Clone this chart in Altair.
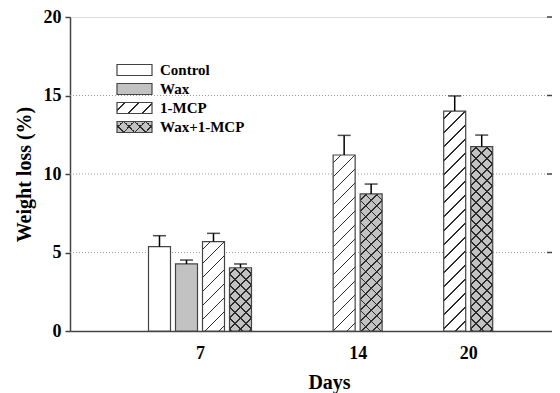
import math
import altair as alt
import pandas as pd

# ---------------- data ----------------
days = [7, 7, 7, 7, 14, 14, 20, 20]
series = ["Control", "Wax", "1-MCP", "Wax+1-MCP", "1-MCP", "Wax+1-MCP", "1-MCP", "Wax+1-MCP"]
values = [5.37, 4.27, 5.69, 4.03, 11.21, 8.73, 14.01, 11.74]
upper = [6.07, 4.52, 6.22, 4.27, 12.46, 9.36, 14.97, 12.48]
legend_names = ["Control", "Wax", "1-MCP", "Wax+1-MCP"]
day_ticks = [7, 14, 20]
y_ticks = [0, 5, 10, 15, 20]
grid_vals = [5, 10, 15]

# ---------------- layout / style ----------------
W, H = 482, 314
YMAX = 20
PX = H / YMAX
BAR_W, PITCH = 22, 27
FONT = "Liberation Serif"
EDGE = "#444444"
LINE = "#2a2a2a"
GRAY = "#c2c2c2"
CLEAR = "rgba(255,255,255,0)"


def stripes(w, h, kind, period, lw, bg, fg):
    """Hard-stop linear gradient that looks like 45-degree hatching."""
    L = (w + h) / math.sqrt(2)
    lam = (w + h) / (w * w + h * h)
    if kind == "slash":
        x1, y1, x2, y2 = 0, 0, lam * w, lam * h
    else:
        x1, y1, x2, y2 = 1, 0, 1 - lam * w, lam * h
    stops = [{"offset": 0, "color": bg}]
    pos = period * 0.5
    while pos < L:
        a = pos / L
        b = min((pos + lw) / L, 1.0)
        stops += [
            {"offset": a, "color": bg},
            {"offset": a, "color": fg},
            {"offset": b, "color": fg},
            {"offset": b, "color": bg},
        ]
        pos += period
    stops.append({"offset": 1, "color": bg})
    return {"gradient": "linear", "x1": x1, "y1": y1, "x2": x2, "y2": y2, "stops": stops}


SLASH_P = 14 / math.sqrt(2)
CROSS_P = 11 / math.sqrt(2)


def fills(name, w, h):
    """Return list of fills (bottom to top) for a series."""
    if name == "Control":
        return ["white"]
    if name == "Wax":
        return [GRAY]
    if name == "1-MCP":
        return [stripes(w, h, "slash", SLASH_P, 1.2, "white", LINE)]
    return [
        stripes(w, h, "back", CROSS_P, 1.1, GRAY, LINE),
        stripes(w, h, "slash", CROSS_P, 1.1, CLEAR, LINE),
    ]


xscale = alt.Scale(type="pow", exponent=0.6, domain=[2.781, 25.10], nice=False, zero=False, padding=0)
yscale = alt.Scale(domain=[0, YMAX], nice=False, padding=0)
xaxis = alt.Axis(
    values=day_ticks, ticks=False, grid=False, labelFont=FONT, labelFontSize=18,
    labelFontWeight="bold", labelColor="black", labelPadding=13,
    domainColor=EDGE, domainWidth=1.5, title="Days", titleFont=FONT,
    titleFontSize=20, titleFontWeight="bold", titleColor="black",
    titleX=259, titleY=51, titleBaseline="middle", titleAlign="center",
)
yaxis = alt.Axis(
    values=y_ticks, grid=False, tickSize=5, tickColor=EDGE, tickWidth=1.5,
    labelFont=FONT, labelFontSize=18, labelFontWeight="bold", labelColor="black",
    labelPadding=4, domainColor=EDGE, domainWidth=1.5, title="Weight loss (%)",
    titleFont=FONT, titleFontSize=20, titleFontWeight="bold", titleColor="black",
    titleX=-46, titleY=H / 2, titleBaseline="middle", titleAlign="center",
)
X = alt.X("day:Q", scale=xscale, axis=xaxis)
Y = alt.Y("value:Q", scale=yscale, axis=yaxis)

layers = []

# grid lines
grid_df = pd.DataFrame({"value": grid_vals})
layers.append(
    alt.Chart(grid_df).mark_rule(color="#9a9a9a", strokeDash=[1, 2], strokeWidth=1).encode(
        y=Y, x=alt.value(0), x2=alt.value(W)
    )
)

# right inward ticks
rt_df = pd.DataFrame({"value": [5, 10, 15, 20]})
layers.append(
    alt.Chart(rt_df).mark_rule(color=EDGE, strokeWidth=1.5).encode(
        y=Y, x=alt.value(W - 5), x2=alt.value(W)
    )
)

# bars
group_size = {d: days.count(d) for d in days}
seen = {}
for d, s, v, u in zip(days, series, values, upper):
    i = seen.get(d, 0)
    seen[d] = i + 1
    off = (i - (group_size[d] - 1) / 2) * PITCH
    row = pd.DataFrame({"day": [d], "value": [v], "upper": [u], "series": [s]})
    base = alt.Chart(row)
    h = v * PX
    for f in fills(s, BAR_W, h):
        layers.append(
            base.mark_bar(width=BAR_W, xOffset=off, fill=f, strokeWidth=0).encode(x=X, y=Y)
        )
    layers.append(
        base.mark_bar(width=BAR_W, xOffset=off, fillOpacity=0, stroke=EDGE, strokeWidth=1.2).encode(x=X, y=Y)
    )
    layers.append(
        base.mark_rule(xOffset=off, color="black", strokeWidth=1.5).encode(
            x=X, y=Y, y2="upper:Q"
        )
    )
    layers.append(
        base.mark_tick(orient="horizontal", xOffset=off, size=13, thickness=1.5, color="black").encode(
            x=X, y=alt.Y("upper:Q", scale=yscale, axis=yaxis)
        )
    )

# legend (drawn manually so the swatches can carry the hatching)
LX0, LX1 = 47, 82
SW_H = 11
for k, name in enumerate(legend_names):
    cy = 53 + 19 * k
    lg = alt.Chart(pd.DataFrame({"name": [name]}))
    for f in fills(name, LX1 - LX0, SW_H):
        layers.append(
            lg.mark_rect(fill=f, strokeWidth=0).encode(
                x=alt.value(LX0), x2=alt.value(LX1),
                y=alt.value(cy - SW_H / 2), y2=alt.value(cy + SW_H / 2),
            )
        )
    layers.append(
        lg.mark_rect(fillOpacity=0, stroke=EDGE, strokeWidth=1.2).encode(
            x=alt.value(LX0), x2=alt.value(LX1),
            y=alt.value(cy - SW_H / 2), y2=alt.value(cy + SW_H / 2),
        )
    )
    layers.append(
        lg.mark_text(align="left", baseline="middle", font=FONT, fontSize=15,
                     fontWeight="bold", color="black").encode(
            x=alt.value(90), y=alt.value(cy), text="name:N"
        )
    )

chart = (
    alt.layer(*layers)
    .properties(
        width=W, height=H,
        autosize=alt.AutoSizeParams(type="none"),
        padding={"left": 62, "top": 9, "right": 0, "bottom": 62},
    )
    .configure_view(stroke=EDGE, strokeWidth=1.5)
    .configure(background="white")
)

chart.save("out.html", embed_options={"renderer": "svg", "actions": False})
